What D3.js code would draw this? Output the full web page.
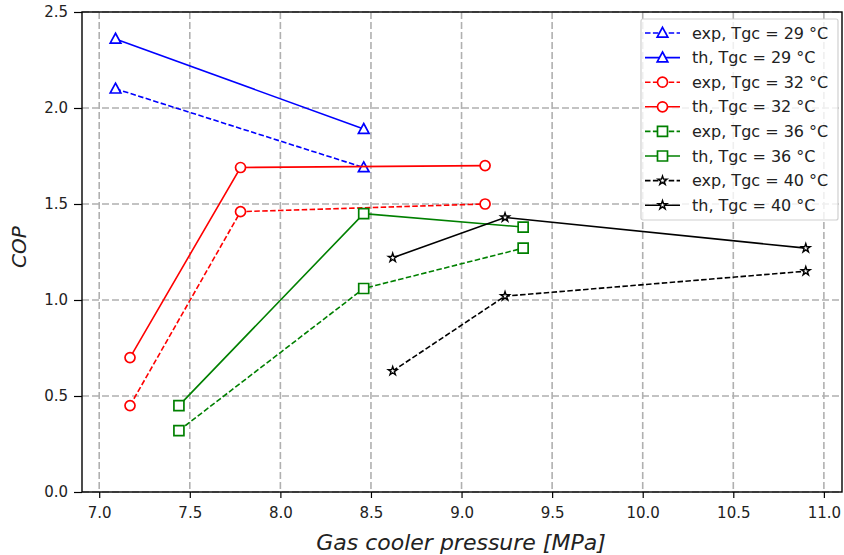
<!DOCTYPE html>
<meta charset="utf-8">
<style>
    body { margin: 0; background: #ffffff; }
    svg { display: block; font-family: "DejaVu Sans", sans-serif; }
</style>

<script src="https://d3js.org/d3.v7.min.js"></script>

<svg id="chart" width="844" height="555"></svg>

<script>

// Data

var seriesNames = ['exp, Tgc = 29 °C', 'th, Tgc = 29 °C',
                   'exp, Tgc = 32 °C', 'th, Tgc = 32 °C',
                   'exp, Tgc = 36 °C', 'th, Tgc = 36 °C',
                   'exp, Tgc = 40 °C', 'th, Tgc = 40 °C'];

var pressure29 = [7.09, 8.46];
var exp29 = [2.10, 1.69];
var th29  = [2.36, 1.89];

var pressure32 = [7.17, 7.78, 9.13];
var exp32 = [0.45, 1.46, 1.50];
var th32  = [0.70, 1.69, 1.70];

var pressure36 = [7.44, 8.46, 9.34];
var exp36 = [0.32, 1.06, 1.27];
var th36  = [0.45, 1.45, 1.38];

var pressure40 = [8.62, 9.24, 10.9];
var exp40 = [0.63, 1.02, 1.15];
var th40  = [1.22, 1.43, 1.27];

var xTicks = [7.0, 7.5, 8.0, 8.5, 9.0, 9.5, 10.0, 10.5, 11.0];
var yTicks = [0.0, 0.5, 1.0, 1.5, 2.0, 2.5];


// Setup

var svg = d3.select('svg#chart');
var margin = { top: 12, right: 2, bottom: 63, left: 82 };
var width  = 844 - margin.left - margin.right;
var height = 555 - margin.top - margin.bottom;

var x = d3.scaleLinear().domain([6.905, 11.1]).range([0, width]);
var y = d3.scaleLinear().domain([0, 2.5]).range([height, 0]);

var g = svg.append('g').attr('transform', 'translate(' + margin.left + ',' + margin.top + ')');

var zip = function (xs, ys) { return xs.map(function (v, i) { return [v, ys[i]]; }); };

var styleOf = { '29': ['#0000ff', 'tri'], '32': ['#ff0000', 'circle'],
                '36': ['#008000', 'square'], '40': ['#000000', 'star'] };

var series = [
    { name: seriesNames[0], pts: zip(pressure29, exp29), t: '29', dash: true },
    { name: seriesNames[1], pts: zip(pressure29, th29),  t: '29', dash: false },
    { name: seriesNames[2], pts: zip(pressure32, exp32), t: '32', dash: true },
    { name: seriesNames[3], pts: zip(pressure32, th32),  t: '32', dash: false },
    { name: seriesNames[4], pts: zip(pressure36, exp36), t: '36', dash: true },
    { name: seriesNames[5], pts: zip(pressure36, th36),  t: '36', dash: false },
    { name: seriesNames[6], pts: zip(pressure40, exp40), t: '40', dash: true },
    { name: seriesNames[7], pts: zip(pressure40, th40),  t: '40', dash: false }
];


// Grid

var gridDash = '7,3';
g.append('g').selectAll('line').data(xTicks).enter().append('line')
    .attr('x1', function (d) { return x(d); }).attr('x2', function (d) { return x(d); })
    .attr('y1', 0).attr('y2', height)
    .attr('stroke', '#b0b0b0').attr('stroke-width', 1.6).attr('stroke-dasharray', gridDash);

g.append('g').selectAll('line').data(yTicks).enter().append('line')
    .attr('y1', function (d) { return y(d); }).attr('y2', function (d) { return y(d); })
    .attr('x1', 0).attr('x2', width)
    .attr('stroke', '#b0b0b0').attr('stroke-width', 1.6).attr('stroke-dasharray', gridDash);


// Markers

var markerPath = function (kind) {
    if (kind === 'tri') {
        var r = 5.6;
        return 'M0,' + (-r) + 'L' + (r * 0.95) + ',' + (r * 0.75) + 'L' + (-r * 0.95) + ',' + (r * 0.75) + 'Z';
    }
    if (kind === 'square') return 'M-5,-5H5V5H-5Z';
    if (kind === 'circle') return d3.symbol(d3.symbolCircle, Math.PI * 25)();
    return d3.symbol(d3.symbolStar, 24)();
};

var drawMarker = function (sel, s) {
    var st = styleOf[s.t];
    sel.append('path')
        .attr('d', markerPath(st[1]))
        .attr('fill', '#ffffff')
        .attr('stroke', st[0])
        .attr('stroke-width', st[1] === 'star' ? 1.4 : 1.7)
        .attr('stroke-linejoin', 'miter');
};

var lineFn = d3.line()
    .x(function (d) { return x(d[0]); })
    .y(function (d) { return y(d[1]); });

series.forEach(function (s) {
    var col = styleOf[s.t][0];
    g.append('path')
        .attr('d', lineFn(s.pts))
        .attr('fill', 'none')
        .attr('stroke', col)
        .attr('stroke-width', 1.6)
        .attr('stroke-dasharray', s.dash ? '5.5,2.4' : null);
    g.append('g').selectAll('g').data(s.pts).enter().append('g')
        .attr('transform', function (d) { return 'translate(' + x(d[0]) + ',' + y(d[1]) + ')'; })
        .each(function () { drawMarker(d3.select(this), s); });
});


// Axes

var xAxis = g.append('g').attr('transform', 'translate(0,' + height + ')')
    .call(d3.axisBottom(x).tickValues(xTicks).tickFormat(d3.format('.1f')).tickSize(6).tickPadding(9));
var yAxis = g.append('g')
    .call(d3.axisLeft(y).tickValues(yTicks).tickFormat(d3.format('.1f')).tickSize(8).tickPadding(6));

[xAxis, yAxis].forEach(function (a) {
    a.select('.domain').remove();
    a.selectAll('line').attr('stroke', '#000').attr('stroke-width', 1.2);
    a.selectAll('text').attr('font-size', 15).attr('fill', '#222')
        .attr('font-family', '"DejaVu Sans", sans-serif');
});

g.append('rect')
    .attr('x', 0).attr('y', 0).attr('width', width).attr('height', height)
    .attr('fill', 'none').attr('stroke', '#000').attr('stroke-width', 1.4);

svg.append('text')
    .attr('x', margin.left + width / 2 - 1).attr('y', 550)
    .attr('text-anchor', 'middle')
    .attr('font-size', 22).attr('font-style', 'italic').attr('fill', '#222')
    .text('Gas cooler pressure [MPa]');

svg.append('text')
    .attr('transform', 'translate(26,' + 247 + ') rotate(-90)')
    .attr('text-anchor', 'middle')
    .attr('font-size', 20).attr('font-style', 'italic').attr('fill', '#222')
    .text('COP');


// Legend

var legend = svg.append('g').attr('transform', 'translate(641,19)');
legend.append('rect')
    .attr('width', 197).attr('height', 201).attr('rx', 2)
    .attr('fill', '#ffffff').attr('fill-opacity', 0.8)
    .attr('stroke', '#d0d0d0').attr('stroke-width', 1.2);

var rowH = 24.6;
series.forEach(function (s, i) {
    var row = legend.append('g').attr('transform', 'translate(0,' + (14 + i * rowH) + ')');
    row.append('line')
        .attr('x1', 4).attr('x2', 39)
        .attr('stroke', styleOf[s.t][0]).attr('stroke-width', 1.6)
        .attr('stroke-dasharray', s.dash ? '5.5,2.4' : null);
    var m = row.append('g').attr('transform', 'translate(21.5,0)');
    drawMarker(m, s);
    row.append('text')
        .attr('x', 51).attr('y', 5.5)
        .attr('font-size', 16).attr('fill', '#222')
        .text(s.name);
});

</script>
